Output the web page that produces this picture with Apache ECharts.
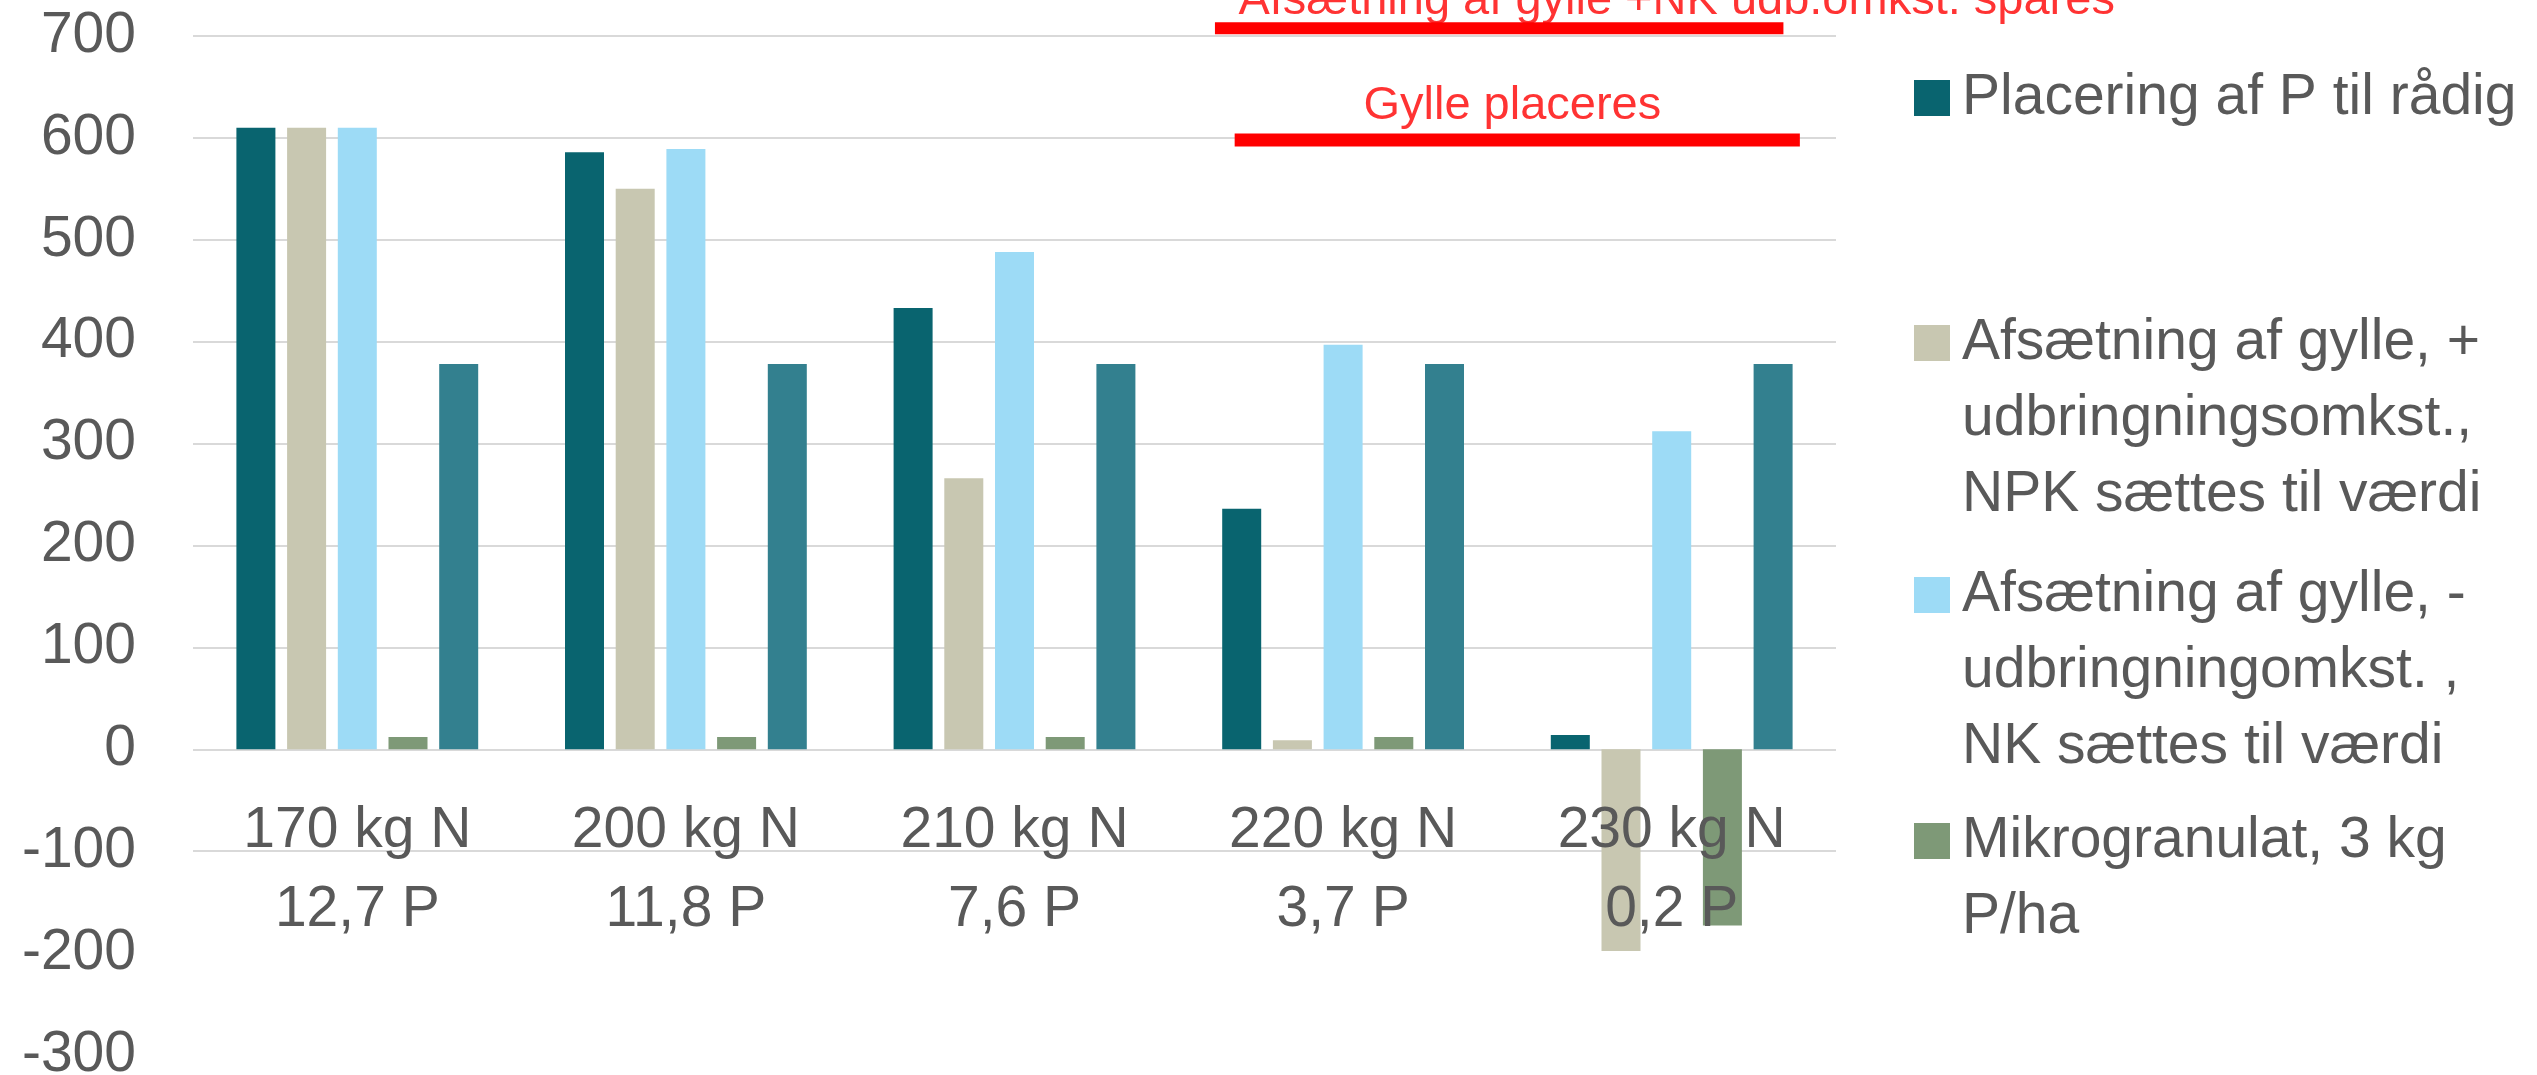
<!DOCTYPE html>
<html lang="da">
<head>
<meta charset="UTF-8">
<title>Placering af P og afsætning af gylle</title>
<script src="https://cdn.jsdelivr.net/npm/echarts@6/dist/echarts.min.js"></script>
<style>
  html, body { margin: 0; padding: 0; background: #fff; }
  #main { width: 2537px; height: 1075px; }
</style>
</head>
<body>
<div id="main"></div>
<script>
// kategorier og serier
var categories = ['170 kg N\n12,7 P', '200 kg N\n11,8 P', '210 kg N\n7,6 P', '220 kg N\n3,7 P', '230 kg N\n0,2 P'];
var seriesNames = [
  'Placering af P til rådig',
  'Afsætning af gylle, +\nudbringningsomkst.,\nNPK sættes til værdi',
  'Afsætning af gylle, -\nudbringningomkst. ,\nNK sættes til værdi',
  'Mikrogranulat, 3 kg\nP/ha',
  'Serie 5'
];
var placering = [610, 586, 433, 236, 14];
var afsaetningPlus = [610, 550, 266, 9, -198];
var afsaetningMinus = [610, 589, 488, 397, 312];
var mikrogranulat = [12, 12, 12, 12, -173];
var serie5 = [378, 378, 378, 378, 378];

// røde markeringer (x i kategori-enheder 0..5, y i akse-værdi)
var annoText = ['Afsætning af gylle +NK udb.omkst. spares', 'Gylle placeres'];
var annoFrom = [3.11, 3.17];
var annoTo = [4.84, 4.89];
var annoLevel = [707.6, 598];
var annoTextX = [3.18, 4.015];
var annoTextY = [734, 631];

var colors = ['#09646f', '#c8c7b1', '#9ddbf6', '#7e9977', '#33808f'];
var gray = '#595959';
var font = '"Liberation Sans", Arial, sans-serif';
var lineH = 76;

var myChart = echarts.init(document.getElementById('main'));

// en legend pr. post; ikonet er en firkant ud for første tekstlinje
function legendItem(name, top, lines) {
  var icon = lines > 1
    ? 'path://M0,0M0,20H36V56H0ZM0,' + (lines * lineH)
    : 'rect';
  return {
    orient: 'vertical',
    left: 1914,
    top: top,
    padding: 0,
    itemWidth: 36,
    itemHeight: lines > 1 ? lines * lineH : 36,
    icon: icon,
    selectedMode: false,
    data: [name],
    textStyle: { fontSize: 57, lineHeight: lineH, color: gray, fontFamily: font, padding: [0, 0, 0, 7] }
  };
}

var barData = [placering, afsaetningPlus, afsaetningMinus, mikrogranulat, serie5];
var series = [];
for (var i = 0; i < barData.length; i++) {
  series.push({
    name: seriesNames[i],
    type: 'bar',
    data: barData[i],
    barWidth: 39,
    barGap: '30%',
    itemStyle: { color: colors[i] },
    silent: true
  });
}

for (var j = 0; j < annoText.length; j++) {
  series.push({
    type: 'line',
    xAxisIndex: 1,
    data: [[annoFrom[j], annoLevel[j]], [annoTo[j], annoLevel[j]]],
    symbol: 'none',
    clip: false,
    silent: true,
    z: 5,
    lineStyle: { color: '#ff0000', width: j === 0 ? 12 : 13 }
  });
  series.push({
    type: 'scatter',
    xAxisIndex: 1,
    data: [[annoTextX[j], annoTextY[j]]],
    symbolSize: 1,
    clip: false,
    silent: true,
    z: 5,
    itemStyle: { color: 'rgba(0,0,0,0)' },
    label: {
      show: true,
      position: j === 0 ? 'right' : 'inside',
      distance: 0,
      formatter: annoText[j],
      color: '#ff0000',
      fontSize: 47,
      fontFamily: font
    }
  });
}

var gridColors = ['rgba(0,0,0,0)', 'rgba(0,0,0,0)'];
for (var k = 0; k < 9; k++) gridColors.push('#d9d9d9');

var option = {
  animation: false,
  backgroundColor: '#fff',
  grid: { left: 193, right: 701, top: 36, bottom: 20, containLabel: false, outerBoundsMode: 'none' },
  legend: [
    legendItem(seriesNames[0], 60, 1),
    legendItem(seriesNames[1], 305, 3),
    legendItem(seriesNames[2], 557, 3),
    legendItem(seriesNames[3], 803, 2)
  ],
  xAxis: [
    {
      type: 'category',
      data: categories,
      z: 3,
      axisLine: { show: false, onZero: false },
      axisTick: { show: false },
      axisLabel: {
        interval: 0,
        margin: -263,
        fontSize: 57,
        lineHeight: 79,
        color: gray,
        fontFamily: font
      }
    },
    { type: 'value', min: 0, max: 5, show: false }
  ],
  yAxis: {
    type: 'value',
    min: -300,
    max: 700,
    interval: 100,
    axisLine: { show: false },
    axisTick: { show: false },
    axisLabel: { margin: 57, fontSize: 57, color: gray, fontFamily: font },
    splitLine: { lineStyle: { color: gridColors, width: 2 } }
  },
  series: series
};

myChart.setOption(option);
</script>
</body>
</html>
